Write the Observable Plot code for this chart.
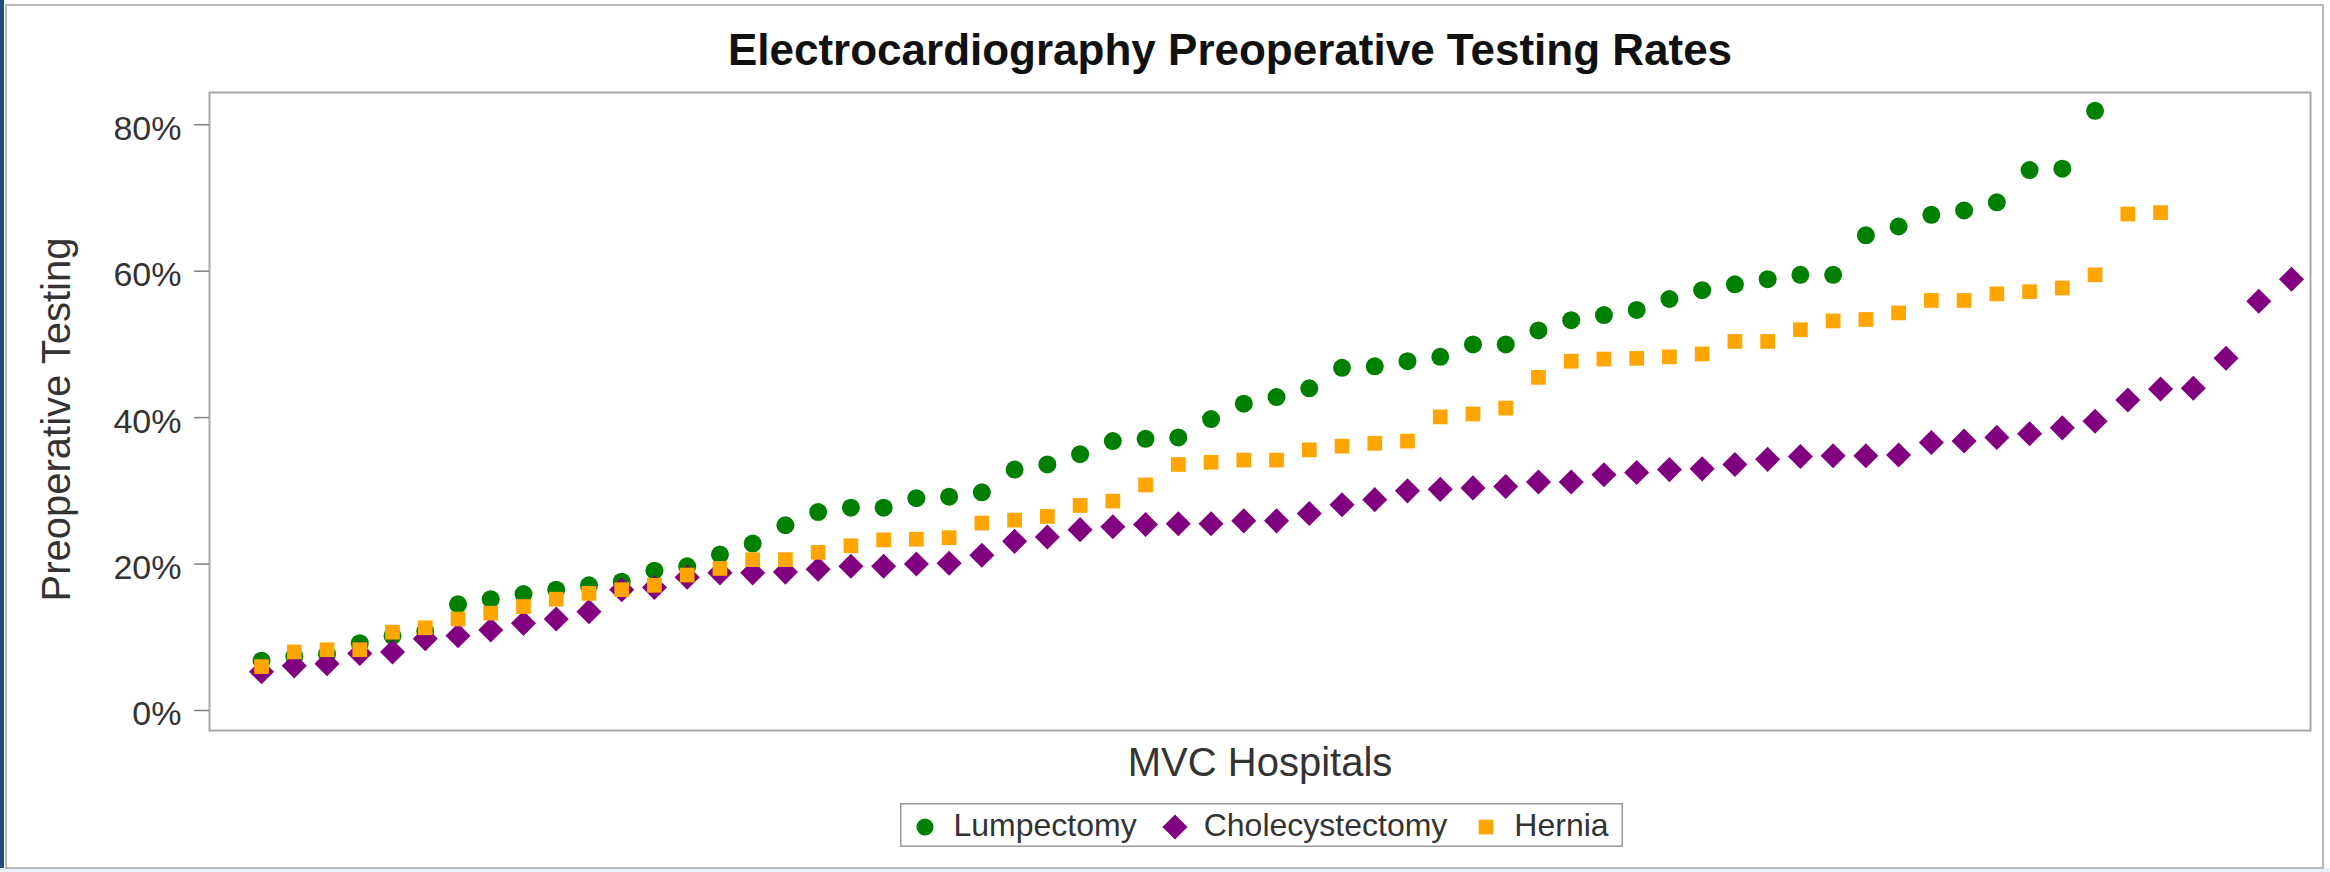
<!DOCTYPE html>
<html>
<head>
<meta charset="utf-8">
<script src="https://cdn.jsdelivr.net/npm/d3@7"></script>
<script src="https://cdn.jsdelivr.net/npm/@observablehq/plot@0.6"></script>
<style>
  html, body { margin: 0; padding: 0; background: #fff; }
  body { width: 2330px; height: 872px; position: relative; overflow: hidden;
         font-family: "Liberation Sans", Arial, sans-serif; }
  #edgeL { position: absolute; left: 0; top: 0; width: 4px; height: 872px; background: #1f4e79; }
  #band { position: absolute; left: 0; top: 868px; width: 2330px; height: 4px; background: #e8f1f8; }
  #box { position: absolute; left: 5px; top: 4px; width: 2319px; height: 865px;
         box-sizing: border-box; border: 2px solid #b8b8b8; }
  #chart { position: absolute; left: 0; top: 0; }
  #title { position: absolute; left: 630px; top: 28px; width: 1200px; text-align: center;
           font-size: 44px; line-height: 44px; font-weight: bold; color: #111; white-space: nowrap; }
  #legend { position: absolute; left: 900px; top: 803px; width: 723px; height: 44px; box-sizing: border-box;
            box-shadow: inset 0 0 0 1.5px #9a9a9a; display: flex; align-items: center;
            padding-left: 10px; font-size: 32px; color: #333; white-space: nowrap; }
  #legend .item { display: flex; align-items: center; margin-right: 23.5px; }
  #legend .item svg { margin-right: 13.5px; position: relative; top: 2px; }
  #legend .item span { line-height: 38px; }
</style>
</head>
<body>
<div id="edgeL"></div>
<div id="band"></div>
<div id="box"></div>
<div id="chart"></div>
<div id="title"></div>
<div id="legend"></div>
<script>
// ---- Data (sorted rates per hospital, %) ----
const lumpectomy = [6.8, 7.4, 7.7, 9.2, 10.2, 10.8, 14.5, 15.2, 15.9, 16.5, 17.1, 17.6, 19.1, 19.7, 21.3, 22.8,
  25.3, 27.1, 27.7, 27.7, 29.0, 29.2, 29.8, 32.9, 33.6, 35.0, 36.8, 37.1, 37.3, 39.8, 41.9, 42.8, 44.0, 46.8,
  47.0, 47.7, 48.3, 50.0, 50.0, 51.9, 53.3, 54.0, 54.7, 56.2, 57.4, 58.2, 58.9, 59.5, 59.5, 64.9, 66.1, 67.7,
  68.3, 69.4, 73.8, 74.0, 81.9];
const cholecystectomy = [5.3, 6.1, 6.4, 7.8, 8.0, 9.8, 10.2, 11.0, 11.9, 12.5, 13.5, 16.5, 16.8, 18.2, 18.8,
  18.8, 18.9, 19.3, 19.7, 19.7, 20.0, 20.1, 21.2, 23.1, 23.7, 24.7, 25.1, 25.4, 25.5, 25.5, 25.9, 25.9, 26.9,
  28.1, 28.8, 30.0, 30.2, 30.4, 30.6, 31.2, 31.2, 32.2, 32.5, 32.9, 33.0, 33.6, 34.3, 34.7, 34.8, 34.8, 34.9,
  36.6, 36.8, 37.3, 37.8, 38.6, 39.5, 42.4, 43.9, 44.0, 48.1, 55.9, 58.9];
const hernia = [6.0, 8.0, 8.3, 8.3, 10.7, 11.3, 12.5, 13.3, 14.2, 15.2, 16.0, 16.5, 17.1, 18.5, 19.4, 20.6,
  20.6, 21.6, 22.5, 23.3, 23.4, 23.6, 25.6, 26.0, 26.5, 28.0, 28.6, 30.8, 33.6, 33.9, 34.2, 34.2, 35.6, 36.1,
  36.5, 36.8, 40.1, 40.5, 41.3, 45.5, 47.7, 48.0, 48.1, 48.3, 48.7, 50.4, 50.4, 52.0, 53.2, 53.4, 54.3, 56.0,
  56.0, 56.9, 57.2, 57.7, 59.5, 67.8, 68.0];
const seriesNames = ["Lumpectomy", "Cholecystectomy", "Hernia"];
const seriesColors = ["green", "purple", "orange"];
const yTicks = [0, 20, 40, 60, 80];
const titleText = "Electrocardiography Preoperative Testing Rates";
const xLabel = "MVC Hospitals";
const yLabel = "Preoperative Testing";

// ---- Build table ----
const toRows = (vals, name) => vals.map((v, i) => ({rank: i + 1, value: v, procedure: name}));
const seriesValues = [lumpectomy, cholecystectomy, hernia];
const seriesSymbols = [d3.symbolCircle, d3.symbolDiamond2, d3.symbolSquare];
const seriesR = [9, 11.3, 8.3];
const tables = seriesValues.map((vals, k) => toRows(vals, seriesNames[k]));

document.getElementById("title").textContent = titleText;

const font = '"Liberation Sans", Arial, sans-serif';
const chart = Plot.plot({
  width: 2330,
  height: 872,
  marginTop: 92,
  marginBottom: 142,
  marginLeft: 209,
  marginRight: 20,
  style: {fontFamily: font, background: "transparent", color: "#333"},
  x: {domain: [-0.59, 63.58], axis: null},
  y: {domain: [-2.73, 84.4], axis: null},
  marks: [
    Plot.frame({stroke: "#a8a8a8", strokeWidth: 2}),
    Plot.axisY(yTicks, {tickSize: 15, fill: "none", stroke: "#808080", strokeWidth: 1.5, label: null}),
    Plot.axisY(yTicks, {tickSize: 0, tickPadding: 28, dy: 4, fontSize: 34, fill: "#333",
                        tickFormat: (d) => `${d}%`, label: null}),
    Plot.text([yLabel], {frameAnchor: "left", textAnchor: "middle", rotate: -90, dx: -168, dy: 8,
                         lineAnchor: "top", fontSize: 40, fill: "#333"}),
    Plot.text([xLabel], {frameAnchor: "bottom", textAnchor: "middle", dy: 45, lineAnchor: "bottom",
                         fontSize: 40, fill: "#333"}),
    ...tables.map((rows, k) =>
      Plot.dot(rows, {x: "rank", y: "value", r: seriesR[k], fill: seriesColors[k],
                      symbol: seriesSymbols[k], stroke: "none"})
    )
  ]
});
document.getElementById("chart").append(chart);

// ---- Legend ----
const legend = document.getElementById("legend");
seriesNames.forEach((name, k) => {
  const item = document.createElement("div");
  item.className = "item";
  const svg = d3.create("svg").attr("width", 30).attr("height", 30).attr("viewBox", "-15 -15 30 30");
  svg.append("path")
    .attr("d", d3.symbol(seriesSymbols[k], seriesR[k] * seriesR[k] * Math.PI * (k === 0 ? 0.9 : 1))())
    .attr("fill", seriesColors[k]);
  item.append(svg.node());
  const label = document.createElement("span");
  label.textContent = name;
  item.append(label);
  legend.append(item);
});
</script>
</body>
</html>
